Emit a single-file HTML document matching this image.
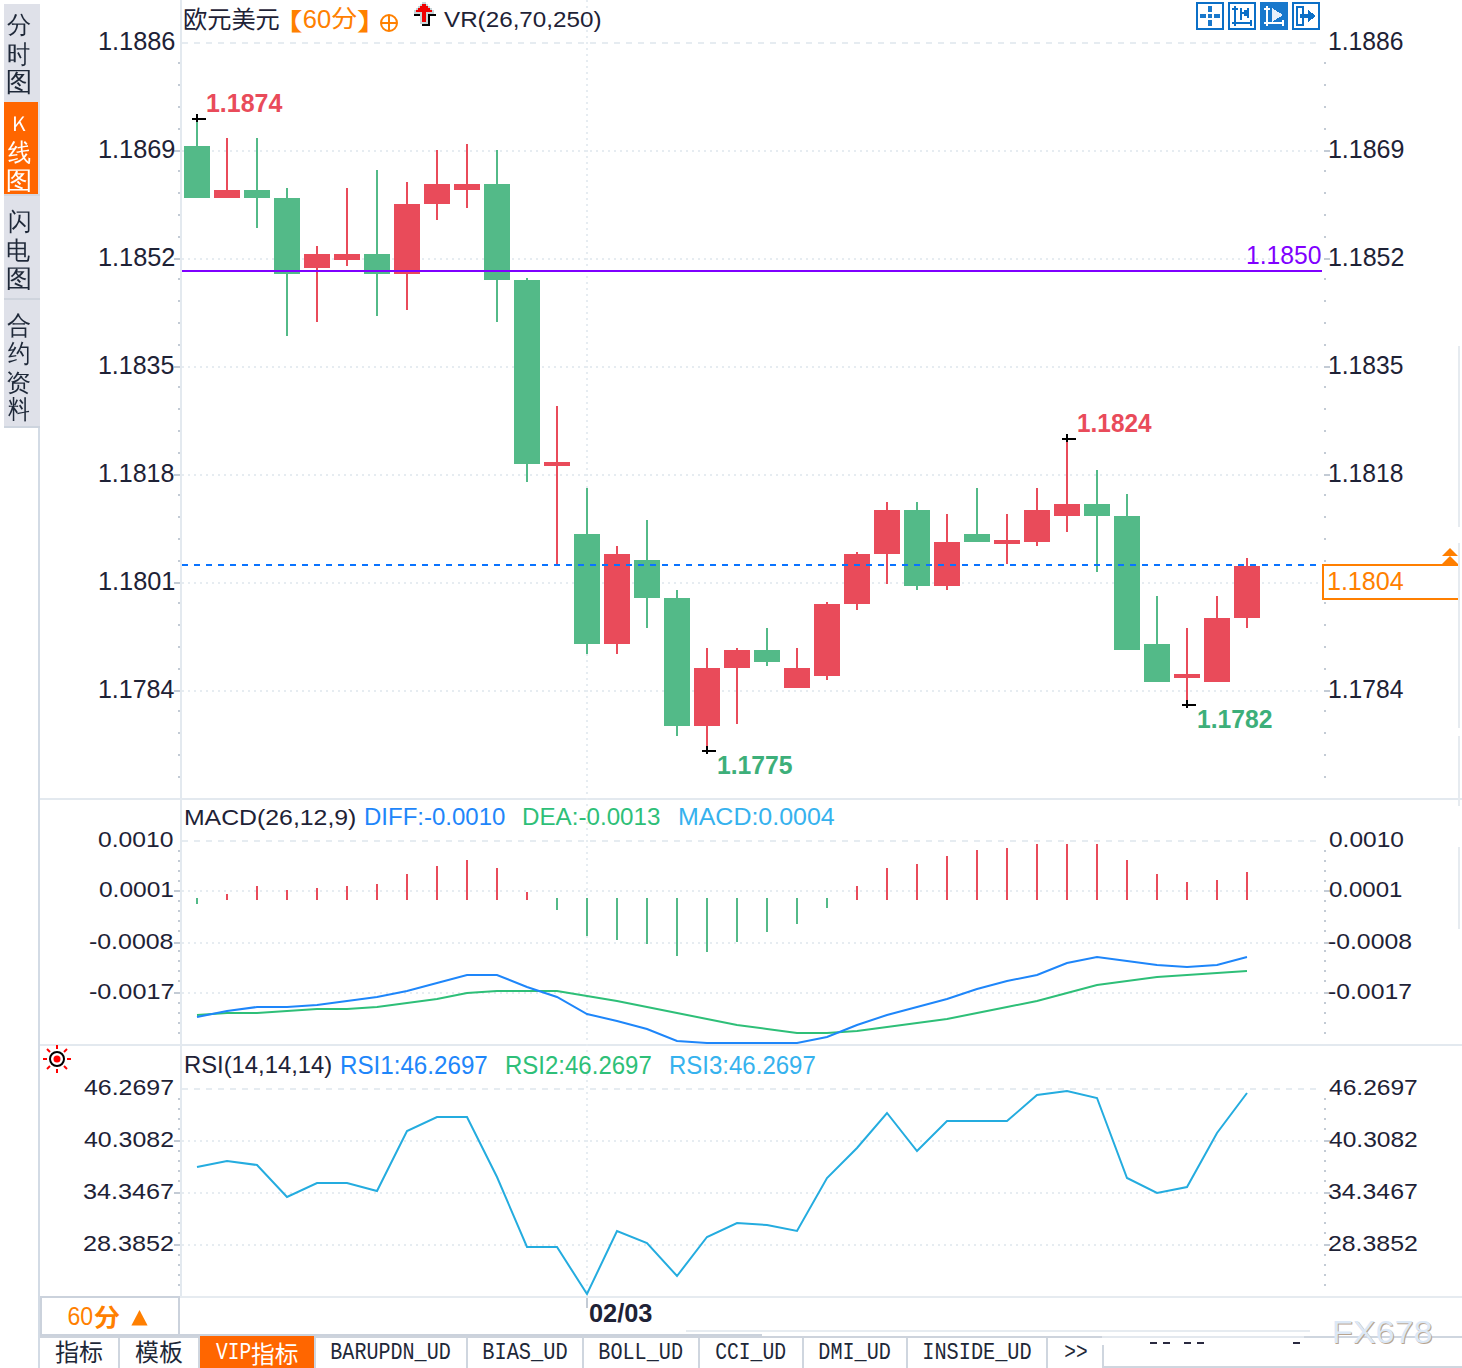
<!DOCTYPE html>
<html><head><meta charset="utf-8"><title>EURUSD 60</title>
<style>
html,body{margin:0;padding:0;background:#fff;}
body{width:1462px;height:1368px;overflow:hidden;}
svg{display:block;}
</style></head><body>
<svg width="1462" height="1368" viewBox="0 0 1462 1368">
<g shape-rendering="crispEdges">
<rect x="4" y="4" width="36" height="422" fill="#dfe1e9"/>
<rect x="4" y="426" width="36" height="2" fill="#cdd4de"/>
<rect x="4" y="102" width="34" height="92" fill="#FF6600"/>
<rect x="4" y="194" width="36" height="2" fill="#d3d7e0"/>
<rect x="4" y="298" width="36" height="2" fill="#cfd4dd"/>
<line x1="181.0" y1="0" x2="181.0" y2="1296" stroke="#e3e9ef" stroke-width="2"/>
<line x1="39.0" y1="428" x2="39.0" y2="1368" stroke="#d3dbe5" stroke-width="2"/>
<line x1="40" y1="799.0" x2="1462" y2="799.0" stroke="#e3e9ef" stroke-width="2"/>
<line x1="40" y1="1045.0" x2="1462" y2="1045.0" stroke="#e3e9ef" stroke-width="2"/>
<line x1="180" y1="1297.0" x2="1462" y2="1297.0" stroke="#e6ebf0" stroke-width="2"/>
<line x1="182" y1="43.0" x2="1322" y2="43.0" stroke="#e6ecf1" stroke-width="2" stroke-dasharray="6 6"/>
<line x1="182" y1="151.0" x2="1322" y2="151.0" stroke="#e6ecf1" stroke-width="2" stroke-dasharray="2 4"/>
<line x1="182" y1="259.0" x2="1322" y2="259.0" stroke="#e6ecf1" stroke-width="2" stroke-dasharray="2 4"/>
<line x1="182" y1="367.0" x2="1322" y2="367.0" stroke="#e6ecf1" stroke-width="2" stroke-dasharray="2 4"/>
<line x1="182" y1="475.0" x2="1322" y2="475.0" stroke="#e6ecf1" stroke-width="2" stroke-dasharray="2 4"/>
<line x1="182" y1="583.0" x2="1322" y2="583.0" stroke="#e6ecf1" stroke-width="2" stroke-dasharray="2 4"/>
<line x1="182" y1="691.0" x2="1322" y2="691.0" stroke="#e6ecf1" stroke-width="2" stroke-dasharray="2 4"/>
<line x1="587.0" y1="0" x2="587.0" y2="1296" stroke="#e6ecf1" stroke-width="2" stroke-dasharray="2 4"/>
<line x1="182" y1="841.0" x2="1322" y2="841.0" stroke="#e6ecf1" stroke-width="2" stroke-dasharray="6 6"/>
<line x1="182" y1="891.0" x2="1322" y2="891.0" stroke="#e6ecf1" stroke-width="2" stroke-dasharray="2 4"/>
<line x1="182" y1="943.0" x2="1322" y2="943.0" stroke="#e6ecf1" stroke-width="2" stroke-dasharray="2 4"/>
<line x1="182" y1="993.0" x2="1322" y2="993.0" stroke="#e6ecf1" stroke-width="2" stroke-dasharray="2 4"/>
<line x1="182" y1="1089.0" x2="1322" y2="1089.0" stroke="#e6ecf1" stroke-width="2" stroke-dasharray="6 6"/>
<line x1="182" y1="1141.0" x2="1322" y2="1141.0" stroke="#e6ecf1" stroke-width="2" stroke-dasharray="2 4"/>
<line x1="182" y1="1193.0" x2="1322" y2="1193.0" stroke="#e6ecf1" stroke-width="2" stroke-dasharray="2 4"/>
<line x1="182" y1="1245.0" x2="1322" y2="1245.0" stroke="#e6ecf1" stroke-width="2" stroke-dasharray="2 4"/>
<rect x="178" y="62" width="2" height="2" fill="#c3cbd5"/>
<rect x="1324" y="62" width="2" height="2" fill="#c3cbd5"/>
<rect x="178" y="84" width="2" height="2" fill="#c3cbd5"/>
<rect x="1324" y="84" width="2" height="2" fill="#c3cbd5"/>
<rect x="178" y="106" width="2" height="2" fill="#c3cbd5"/>
<rect x="1324" y="106" width="2" height="2" fill="#c3cbd5"/>
<rect x="178" y="128" width="2" height="2" fill="#c3cbd5"/>
<rect x="1324" y="128" width="2" height="2" fill="#c3cbd5"/>
<rect x="174" y="150" width="6" height="2" fill="#c3cbd5"/>
<rect x="1324" y="150" width="6" height="2" fill="#c3cbd5"/>
<rect x="178" y="170" width="2" height="2" fill="#c3cbd5"/>
<rect x="1324" y="170" width="2" height="2" fill="#c3cbd5"/>
<rect x="178" y="192" width="2" height="2" fill="#c3cbd5"/>
<rect x="1324" y="192" width="2" height="2" fill="#c3cbd5"/>
<rect x="178" y="214" width="2" height="2" fill="#c3cbd5"/>
<rect x="1324" y="214" width="2" height="2" fill="#c3cbd5"/>
<rect x="178" y="236" width="2" height="2" fill="#c3cbd5"/>
<rect x="1324" y="236" width="2" height="2" fill="#c3cbd5"/>
<rect x="174" y="258" width="6" height="2" fill="#c3cbd5"/>
<rect x="1324" y="258" width="6" height="2" fill="#c3cbd5"/>
<rect x="178" y="278" width="2" height="2" fill="#c3cbd5"/>
<rect x="1324" y="278" width="2" height="2" fill="#c3cbd5"/>
<rect x="178" y="300" width="2" height="2" fill="#c3cbd5"/>
<rect x="1324" y="300" width="2" height="2" fill="#c3cbd5"/>
<rect x="178" y="322" width="2" height="2" fill="#c3cbd5"/>
<rect x="1324" y="322" width="2" height="2" fill="#c3cbd5"/>
<rect x="178" y="344" width="2" height="2" fill="#c3cbd5"/>
<rect x="1324" y="344" width="2" height="2" fill="#c3cbd5"/>
<rect x="174" y="366" width="6" height="2" fill="#c3cbd5"/>
<rect x="1324" y="366" width="6" height="2" fill="#c3cbd5"/>
<rect x="178" y="386" width="2" height="2" fill="#c3cbd5"/>
<rect x="1324" y="386" width="2" height="2" fill="#c3cbd5"/>
<rect x="178" y="408" width="2" height="2" fill="#c3cbd5"/>
<rect x="1324" y="408" width="2" height="2" fill="#c3cbd5"/>
<rect x="178" y="430" width="2" height="2" fill="#c3cbd5"/>
<rect x="1324" y="430" width="2" height="2" fill="#c3cbd5"/>
<rect x="178" y="452" width="2" height="2" fill="#c3cbd5"/>
<rect x="1324" y="452" width="2" height="2" fill="#c3cbd5"/>
<rect x="174" y="474" width="6" height="2" fill="#c3cbd5"/>
<rect x="1324" y="474" width="6" height="2" fill="#c3cbd5"/>
<rect x="178" y="494" width="2" height="2" fill="#c3cbd5"/>
<rect x="1324" y="494" width="2" height="2" fill="#c3cbd5"/>
<rect x="178" y="516" width="2" height="2" fill="#c3cbd5"/>
<rect x="1324" y="516" width="2" height="2" fill="#c3cbd5"/>
<rect x="178" y="538" width="2" height="2" fill="#c3cbd5"/>
<rect x="1324" y="538" width="2" height="2" fill="#c3cbd5"/>
<rect x="178" y="560" width="2" height="2" fill="#c3cbd5"/>
<rect x="1324" y="560" width="2" height="2" fill="#c3cbd5"/>
<rect x="174" y="582" width="6" height="2" fill="#c3cbd5"/>
<rect x="1324" y="582" width="6" height="2" fill="#c3cbd5"/>
<rect x="178" y="602" width="2" height="2" fill="#c3cbd5"/>
<rect x="1324" y="602" width="2" height="2" fill="#c3cbd5"/>
<rect x="178" y="624" width="2" height="2" fill="#c3cbd5"/>
<rect x="1324" y="624" width="2" height="2" fill="#c3cbd5"/>
<rect x="178" y="646" width="2" height="2" fill="#c3cbd5"/>
<rect x="1324" y="646" width="2" height="2" fill="#c3cbd5"/>
<rect x="178" y="668" width="2" height="2" fill="#c3cbd5"/>
<rect x="1324" y="668" width="2" height="2" fill="#c3cbd5"/>
<rect x="174" y="690" width="6" height="2" fill="#c3cbd5"/>
<rect x="1324" y="690" width="6" height="2" fill="#c3cbd5"/>
<rect x="178" y="710" width="2" height="2" fill="#c3cbd5"/>
<rect x="1324" y="710" width="2" height="2" fill="#c3cbd5"/>
<rect x="178" y="732" width="2" height="2" fill="#c3cbd5"/>
<rect x="1324" y="732" width="2" height="2" fill="#c3cbd5"/>
<rect x="178" y="754" width="2" height="2" fill="#c3cbd5"/>
<rect x="1324" y="754" width="2" height="2" fill="#c3cbd5"/>
<rect x="178" y="776" width="2" height="2" fill="#c3cbd5"/>
<rect x="1324" y="776" width="2" height="2" fill="#c3cbd5"/>
<rect x="178" y="850" width="2" height="2" fill="#c3cbd5"/>
<rect x="1324" y="850" width="2" height="2" fill="#c3cbd5"/>
<rect x="178" y="860" width="2" height="2" fill="#c3cbd5"/>
<rect x="1324" y="860" width="2" height="2" fill="#c3cbd5"/>
<rect x="178" y="870" width="2" height="2" fill="#c3cbd5"/>
<rect x="1324" y="870" width="2" height="2" fill="#c3cbd5"/>
<rect x="178" y="880" width="2" height="2" fill="#c3cbd5"/>
<rect x="1324" y="880" width="2" height="2" fill="#c3cbd5"/>
<rect x="174" y="890" width="6" height="2" fill="#c3cbd5"/>
<rect x="1324" y="890" width="6" height="2" fill="#c3cbd5"/>
<rect x="178" y="900" width="2" height="2" fill="#c3cbd5"/>
<rect x="1324" y="900" width="2" height="2" fill="#c3cbd5"/>
<rect x="178" y="910" width="2" height="2" fill="#c3cbd5"/>
<rect x="1324" y="910" width="2" height="2" fill="#c3cbd5"/>
<rect x="178" y="920" width="2" height="2" fill="#c3cbd5"/>
<rect x="1324" y="920" width="2" height="2" fill="#c3cbd5"/>
<rect x="178" y="930" width="2" height="2" fill="#c3cbd5"/>
<rect x="1324" y="930" width="2" height="2" fill="#c3cbd5"/>
<rect x="174" y="942" width="6" height="2" fill="#c3cbd5"/>
<rect x="1324" y="942" width="6" height="2" fill="#c3cbd5"/>
<rect x="178" y="950" width="2" height="2" fill="#c3cbd5"/>
<rect x="1324" y="950" width="2" height="2" fill="#c3cbd5"/>
<rect x="178" y="960" width="2" height="2" fill="#c3cbd5"/>
<rect x="1324" y="960" width="2" height="2" fill="#c3cbd5"/>
<rect x="178" y="970" width="2" height="2" fill="#c3cbd5"/>
<rect x="1324" y="970" width="2" height="2" fill="#c3cbd5"/>
<rect x="178" y="980" width="2" height="2" fill="#c3cbd5"/>
<rect x="1324" y="980" width="2" height="2" fill="#c3cbd5"/>
<rect x="174" y="992" width="6" height="2" fill="#c3cbd5"/>
<rect x="1324" y="992" width="6" height="2" fill="#c3cbd5"/>
<rect x="178" y="1002" width="2" height="2" fill="#c3cbd5"/>
<rect x="1324" y="1002" width="2" height="2" fill="#c3cbd5"/>
<rect x="178" y="1012" width="2" height="2" fill="#c3cbd5"/>
<rect x="1324" y="1012" width="2" height="2" fill="#c3cbd5"/>
<rect x="178" y="1022" width="2" height="2" fill="#c3cbd5"/>
<rect x="1324" y="1022" width="2" height="2" fill="#c3cbd5"/>
<rect x="178" y="1032" width="2" height="2" fill="#c3cbd5"/>
<rect x="1324" y="1032" width="2" height="2" fill="#c3cbd5"/>
<rect x="178" y="1098" width="2" height="2" fill="#c3cbd5"/>
<rect x="1324" y="1098" width="2" height="2" fill="#c3cbd5"/>
<rect x="178" y="1108" width="2" height="2" fill="#c3cbd5"/>
<rect x="1324" y="1108" width="2" height="2" fill="#c3cbd5"/>
<rect x="178" y="1118" width="2" height="2" fill="#c3cbd5"/>
<rect x="1324" y="1118" width="2" height="2" fill="#c3cbd5"/>
<rect x="178" y="1128" width="2" height="2" fill="#c3cbd5"/>
<rect x="1324" y="1128" width="2" height="2" fill="#c3cbd5"/>
<rect x="174" y="1140" width="6" height="2" fill="#c3cbd5"/>
<rect x="1324" y="1140" width="6" height="2" fill="#c3cbd5"/>
<rect x="178" y="1150" width="2" height="2" fill="#c3cbd5"/>
<rect x="1324" y="1150" width="2" height="2" fill="#c3cbd5"/>
<rect x="178" y="1160" width="2" height="2" fill="#c3cbd5"/>
<rect x="1324" y="1160" width="2" height="2" fill="#c3cbd5"/>
<rect x="178" y="1170" width="2" height="2" fill="#c3cbd5"/>
<rect x="1324" y="1170" width="2" height="2" fill="#c3cbd5"/>
<rect x="178" y="1180" width="2" height="2" fill="#c3cbd5"/>
<rect x="1324" y="1180" width="2" height="2" fill="#c3cbd5"/>
<rect x="174" y="1192" width="6" height="2" fill="#c3cbd5"/>
<rect x="1324" y="1192" width="6" height="2" fill="#c3cbd5"/>
<rect x="178" y="1202" width="2" height="2" fill="#c3cbd5"/>
<rect x="1324" y="1202" width="2" height="2" fill="#c3cbd5"/>
<rect x="178" y="1212" width="2" height="2" fill="#c3cbd5"/>
<rect x="1324" y="1212" width="2" height="2" fill="#c3cbd5"/>
<rect x="178" y="1222" width="2" height="2" fill="#c3cbd5"/>
<rect x="1324" y="1222" width="2" height="2" fill="#c3cbd5"/>
<rect x="178" y="1232" width="2" height="2" fill="#c3cbd5"/>
<rect x="1324" y="1232" width="2" height="2" fill="#c3cbd5"/>
<rect x="174" y="1244" width="6" height="2" fill="#c3cbd5"/>
<rect x="1324" y="1244" width="6" height="2" fill="#c3cbd5"/>
<rect x="178" y="1254" width="2" height="2" fill="#c3cbd5"/>
<rect x="1324" y="1254" width="2" height="2" fill="#c3cbd5"/>
<rect x="178" y="1264" width="2" height="2" fill="#c3cbd5"/>
<rect x="1324" y="1264" width="2" height="2" fill="#c3cbd5"/>
<rect x="178" y="1274" width="2" height="2" fill="#c3cbd5"/>
<rect x="1324" y="1274" width="2" height="2" fill="#c3cbd5"/>
<rect x="178" y="1284" width="2" height="2" fill="#c3cbd5"/>
<rect x="1324" y="1284" width="2" height="2" fill="#c3cbd5"/>
<rect x="196" y="118" width="2" height="80" fill="#53BA88"/>
<rect x="184" y="146" width="26" height="52" fill="#53BA88"/>
<rect x="226" y="138" width="2" height="60" fill="#E94B5A"/>
<rect x="214" y="190" width="26" height="8" fill="#E94B5A"/>
<rect x="256" y="138" width="2" height="90" fill="#53BA88"/>
<rect x="244" y="190" width="26" height="8" fill="#53BA88"/>
<rect x="286" y="188" width="2" height="148" fill="#53BA88"/>
<rect x="274" y="198" width="26" height="76" fill="#53BA88"/>
<rect x="316" y="246" width="2" height="76" fill="#E94B5A"/>
<rect x="304" y="254" width="26" height="14" fill="#E94B5A"/>
<rect x="346" y="188" width="2" height="78" fill="#E94B5A"/>
<rect x="334" y="254" width="26" height="6" fill="#E94B5A"/>
<rect x="376" y="170" width="2" height="146" fill="#53BA88"/>
<rect x="364" y="254" width="26" height="20" fill="#53BA88"/>
<rect x="406" y="182" width="2" height="128" fill="#E94B5A"/>
<rect x="394" y="204" width="26" height="70" fill="#E94B5A"/>
<rect x="436" y="150" width="2" height="70" fill="#E94B5A"/>
<rect x="424" y="184" width="26" height="20" fill="#E94B5A"/>
<rect x="466" y="144" width="2" height="64" fill="#E94B5A"/>
<rect x="454" y="184" width="26" height="6" fill="#E94B5A"/>
<rect x="496" y="150" width="2" height="172" fill="#53BA88"/>
<rect x="484" y="184" width="26" height="96" fill="#53BA88"/>
<rect x="526" y="278" width="2" height="204" fill="#53BA88"/>
<rect x="514" y="280" width="26" height="184" fill="#53BA88"/>
<rect x="556" y="406" width="2" height="158" fill="#E94B5A"/>
<rect x="544" y="462" width="26" height="4" fill="#E94B5A"/>
<rect x="586" y="488" width="2" height="166" fill="#53BA88"/>
<rect x="574" y="534" width="26" height="110" fill="#53BA88"/>
<rect x="616" y="546" width="2" height="108" fill="#E94B5A"/>
<rect x="604" y="554" width="26" height="90" fill="#E94B5A"/>
<rect x="646" y="520" width="2" height="108" fill="#53BA88"/>
<rect x="634" y="560" width="26" height="38" fill="#53BA88"/>
<rect x="676" y="590" width="2" height="146" fill="#53BA88"/>
<rect x="664" y="598" width="26" height="128" fill="#53BA88"/>
<rect x="706" y="648" width="2" height="102" fill="#E94B5A"/>
<rect x="694" y="668" width="26" height="58" fill="#E94B5A"/>
<rect x="736" y="648" width="2" height="76" fill="#E94B5A"/>
<rect x="724" y="650" width="26" height="18" fill="#E94B5A"/>
<rect x="766" y="628" width="2" height="38" fill="#53BA88"/>
<rect x="754" y="650" width="26" height="12" fill="#53BA88"/>
<rect x="796" y="648" width="2" height="40" fill="#E94B5A"/>
<rect x="784" y="668" width="26" height="20" fill="#E94B5A"/>
<rect x="826" y="602" width="2" height="78" fill="#E94B5A"/>
<rect x="814" y="604" width="26" height="72" fill="#E94B5A"/>
<rect x="856" y="552" width="2" height="58" fill="#E94B5A"/>
<rect x="844" y="554" width="26" height="50" fill="#E94B5A"/>
<rect x="886" y="502" width="2" height="82" fill="#E94B5A"/>
<rect x="874" y="510" width="26" height="44" fill="#E94B5A"/>
<rect x="916" y="502" width="2" height="88" fill="#53BA88"/>
<rect x="904" y="510" width="26" height="76" fill="#53BA88"/>
<rect x="946" y="514" width="2" height="76" fill="#E94B5A"/>
<rect x="934" y="542" width="26" height="44" fill="#E94B5A"/>
<rect x="976" y="488" width="2" height="54" fill="#53BA88"/>
<rect x="964" y="534" width="26" height="8" fill="#53BA88"/>
<rect x="1006" y="514" width="2" height="50" fill="#E94B5A"/>
<rect x="994" y="540" width="26" height="4" fill="#E94B5A"/>
<rect x="1036" y="488" width="2" height="58" fill="#E94B5A"/>
<rect x="1024" y="510" width="26" height="32" fill="#E94B5A"/>
<rect x="1066" y="438" width="2" height="94" fill="#E94B5A"/>
<rect x="1054" y="504" width="26" height="12" fill="#E94B5A"/>
<rect x="1096" y="470" width="2" height="102" fill="#53BA88"/>
<rect x="1084" y="504" width="26" height="12" fill="#53BA88"/>
<rect x="1126" y="494" width="2" height="156" fill="#53BA88"/>
<rect x="1114" y="516" width="26" height="134" fill="#53BA88"/>
<rect x="1156" y="596" width="2" height="86" fill="#53BA88"/>
<rect x="1144" y="644" width="26" height="38" fill="#53BA88"/>
<rect x="1186" y="628" width="2" height="76" fill="#E94B5A"/>
<rect x="1174" y="674" width="26" height="4" fill="#E94B5A"/>
<rect x="1216" y="596" width="2" height="86" fill="#E94B5A"/>
<rect x="1204" y="618" width="26" height="64" fill="#E94B5A"/>
<rect x="1246" y="558" width="2" height="70" fill="#E94B5A"/>
<rect x="1234" y="566" width="26" height="52" fill="#E94B5A"/>
<rect x="182" y="270" width="1140" height="2" fill="#7F00FF"/>
<line x1="182" y1="565.0" x2="1322" y2="565.0" stroke="#0A74FF" stroke-width="2" stroke-dasharray="6 6"/>
<rect x="192" y="118" width="14" height="2" fill="#000"/>
<rect x="196" y="114" width="2" height="8" fill="#000"/>
<rect x="1062" y="438" width="14" height="2" fill="#000"/>
<rect x="1066" y="434" width="2" height="8" fill="#000"/>
<rect x="702" y="750" width="14" height="2" fill="#000"/>
<rect x="706" y="746" width="2" height="8" fill="#000"/>
<rect x="1182" y="704" width="14" height="2" fill="#000"/>
<rect x="1186" y="700" width="2" height="8" fill="#000"/>
<rect x="196" y="898" width="2" height="6" fill="#53BA88"/>
<rect x="226" y="894" width="2" height="6" fill="#E94B5A"/>
<rect x="256" y="886" width="2" height="14" fill="#E94B5A"/>
<rect x="286" y="890" width="2" height="10" fill="#E94B5A"/>
<rect x="316" y="888" width="2" height="12" fill="#E94B5A"/>
<rect x="346" y="886" width="2" height="14" fill="#E94B5A"/>
<rect x="376" y="884" width="2" height="16" fill="#E94B5A"/>
<rect x="406" y="874" width="2" height="26" fill="#E94B5A"/>
<rect x="436" y="866" width="2" height="34" fill="#E94B5A"/>
<rect x="466" y="860" width="2" height="40" fill="#E94B5A"/>
<rect x="496" y="868" width="2" height="32" fill="#E94B5A"/>
<rect x="526" y="892" width="2" height="8" fill="#E94B5A"/>
<rect x="556" y="898" width="2" height="12" fill="#53BA88"/>
<rect x="586" y="898" width="2" height="38" fill="#53BA88"/>
<rect x="616" y="898" width="2" height="42" fill="#53BA88"/>
<rect x="646" y="898" width="2" height="46" fill="#53BA88"/>
<rect x="676" y="898" width="2" height="58" fill="#53BA88"/>
<rect x="706" y="898" width="2" height="54" fill="#53BA88"/>
<rect x="736" y="898" width="2" height="44" fill="#53BA88"/>
<rect x="766" y="898" width="2" height="34" fill="#53BA88"/>
<rect x="796" y="898" width="2" height="26" fill="#53BA88"/>
<rect x="826" y="898" width="2" height="10" fill="#53BA88"/>
<rect x="856" y="886" width="2" height="14" fill="#E94B5A"/>
<rect x="886" y="868" width="2" height="32" fill="#E94B5A"/>
<rect x="916" y="864" width="2" height="36" fill="#E94B5A"/>
<rect x="946" y="856" width="2" height="44" fill="#E94B5A"/>
<rect x="976" y="850" width="2" height="50" fill="#E94B5A"/>
<rect x="1006" y="848" width="2" height="52" fill="#E94B5A"/>
<rect x="1036" y="844" width="2" height="56" fill="#E94B5A"/>
<rect x="1066" y="844" width="2" height="56" fill="#E94B5A"/>
<rect x="1096" y="844" width="2" height="56" fill="#E94B5A"/>
<rect x="1126" y="860" width="2" height="40" fill="#E94B5A"/>
<rect x="1156" y="874" width="2" height="26" fill="#E94B5A"/>
<rect x="1186" y="882" width="2" height="18" fill="#E94B5A"/>
<rect x="1216" y="880" width="2" height="20" fill="#E94B5A"/>
<rect x="1246" y="872" width="2" height="28" fill="#E94B5A"/>
<rect x="1324" y="566" width="134" height="32" fill="#ffffff"/>
<rect x="1322" y="564" width="136" height="2" fill="#FF7F00"/>
<rect x="1322" y="598" width="136" height="2" fill="#FF7F00"/>
<rect x="1322" y="564" width="2" height="36" fill="#FF7F00"/>
<rect x="1458" y="346" width="2" height="181" fill="#e6ebf0"/>
<rect x="1458" y="543" width="2" height="185" fill="#e6ebf0"/>
<rect x="1458" y="736" width="2" height="70" fill="#e6ebf0"/>
<rect x="1458" y="847" width="2" height="82" fill="#e6ebf0"/>
<rect x="586" y="1298" width="2" height="10" fill="#c3cbd5"/>
<rect x="40" y="1296" width="140" height="2" fill="#cbd2dc"/>
<rect x="40" y="1296" width="2" height="40" fill="#cbd2dc"/>
<rect x="178" y="1296" width="2" height="40" fill="#cbd2dc"/>
<rect x="686" y="1330" width="624" height="2" fill="#e6ebf0"/>
<rect x="40" y="1334" width="722" height="2" fill="#cbd2dc"/>
<rect x="762" y="1336" width="542" height="2" fill="#e3e8ee"/>
<rect x="1304" y="1336" width="158" height="2" fill="#cfd6df"/>
<rect x="40" y="1336" width="1062" height="2" fill="#cdd3dc"/>
<rect x="200" y="1336" width="114" height="32" fill="#FF6600"/>
<rect x="118" y="1338" width="2" height="30" fill="#cfd6df"/>
<rect x="198" y="1338" width="2" height="30" fill="#cfd6df"/>
<rect x="314" y="1338" width="2" height="30" fill="#cfd6df"/>
<rect x="466" y="1338" width="2" height="30" fill="#cfd6df"/>
<rect x="582" y="1338" width="2" height="30" fill="#cfd6df"/>
<rect x="698" y="1338" width="2" height="30" fill="#cfd6df"/>
<rect x="802" y="1338" width="2" height="30" fill="#cfd6df"/>
<rect x="906" y="1338" width="2" height="30" fill="#cfd6df"/>
<rect x="1046" y="1338" width="2" height="30" fill="#cfd6df"/>
<rect x="1102" y="1345" width="2" height="23" fill="#cfd6df"/>
<rect x="1102" y="1366" width="360" height="2" fill="#cfd6df"/>
<rect x="1150" y="1342" width="7" height="2" fill="#2a2a40"/>
<rect x="1163" y="1342" width="7" height="2" fill="#2a2a40"/>
<rect x="1184" y="1342" width="7" height="2" fill="#2a2a40"/>
<rect x="1197" y="1342" width="7" height="2" fill="#2a2a40"/>
<rect x="1293" y="1342" width="7" height="2" fill="#2a2a40"/>
</g>
<polyline points="197,1015 227,1013 257,1013 287,1011 317,1009 347,1009 377,1007 407,1003 437,999 467,993 497,991 527,991 557,991 587,996 617,1001 647,1007 677,1013 707,1019 737,1025 767,1029 797,1033 827,1033 857,1031 887,1027 917,1023 947,1019 977,1013 1007,1007 1037,1001 1067,993 1097,985 1127,981 1157,977 1187,975 1217,973 1247,971" fill="none" stroke="#2EBF78" stroke-width="2" stroke-linejoin="miter"/>
<polyline points="197,1017 227,1011 257,1007 287,1007 317,1005 347,1001 377,997 407,991 437,983 467,975 497,975 527,987 557,997 587,1014 617,1021 647,1029 677,1041 707,1043 737,1043 767,1043 797,1043 827,1037 857,1025 887,1015 917,1007 947,999 977,989 1007,981 1037,975 1067,963 1097,957 1127,961 1157,965 1187,967 1217,965 1247,957" fill="none" stroke="#1E86FA" stroke-width="2" stroke-linejoin="miter"/>
<polyline points="197,1167 227,1161 257,1165 287,1197 317,1183 347,1183 377,1191 407,1131 437,1117 467,1117 497,1177 527,1247 557,1247 587,1294 617,1231 647,1243 677,1276 707,1237 737,1223 767,1225 797,1231 827,1178 857,1148 887,1113 917,1151 947,1121 977,1121 1007,1121 1037,1095 1067,1091 1097,1098 1127,1178 1157,1193 1187,1187 1217,1133 1247,1093" fill="none" stroke="#24ACDF" stroke-width="2" stroke-linejoin="miter"/>
<path d="M139.5 1310 L147.6 1325.5 L131.4 1325.5 Z" fill="#FF7F00"/>
<path d="M1450 548 L1458 556 L1442 556 Z M1450 556 L1458 564 L1442 564 Z" fill="#FF7F00"/>
<circle cx="389" cy="23" r="8" fill="none" stroke="#FF8000" stroke-width="2"/><line x1="381" y1="23" x2="397" y2="23" stroke="#FF8000" stroke-width="2"/><line x1="389" y1="15" x2="389" y2="31" stroke="#FF8000" stroke-width="2"/>
<g shape-rendering="crispEdges"><g fill="#c8d5d8"><rect x="422" y="2" width="4" height="2"/><rect x="420" y="4" width="2" height="2"/><rect x="426" y="4" width="2" height="2"/><rect x="418" y="6" width="2" height="2"/><rect x="428" y="6" width="2" height="2"/><rect x="416" y="8" width="2" height="2"/><rect x="430" y="8" width="2" height="2"/><rect x="414" y="10" width="2" height="2"/><rect x="432" y="10" width="2" height="2"/><rect x="414" y="12" width="20" height="2"/><rect x="420" y="14" width="2" height="10"/><rect x="426" y="14" width="2" height="8"/><rect x="420" y="22" width="8" height="2"/></g><g fill="#F00000"><rect x="422" y="4" width="4" height="2"/><rect x="420" y="6" width="8" height="2"/><rect x="418" y="8" width="12" height="2"/><rect x="416" y="10" width="16" height="2"/><rect x="422" y="12" width="4" height="10"/></g><g fill="#000"><rect x="414" y="14" width="6" height="2"/><rect x="428" y="14" width="8" height="2"/><rect x="428" y="14" width="2" height="12"/><rect x="422" y="24" width="8" height="2"/></g></g>
<g transform="translate(42,1044)">
<circle cx="15" cy="15" r="7" fill="none" stroke="#000" stroke-width="2"/>
<circle cx="15" cy="15" r="3.5" fill="#f00"/>
<g stroke="#f00" stroke-width="2">
<line x1="15" y1="1" x2="15" y2="5"/><line x1="15" y1="25" x2="15" y2="29"/>
<line x1="1" y1="15" x2="5" y2="15"/><line x1="25" y1="15" x2="29" y2="15"/>
<line x1="5" y1="5" x2="8" y2="8"/><line x1="22" y1="22" x2="25" y2="25"/>
<line x1="25" y1="5" x2="22" y2="8"/><line x1="5" y1="25" x2="8" y2="22"/>
</g></g>
<g shape-rendering="crispEdges">
<g fill="none" stroke="#0B6FC7" stroke-width="2">
<rect x="1197" y="3" width="26" height="26"/><rect x="1229" y="3" width="26" height="26"/><rect x="1293" y="3" width="26" height="26"/>
</g>
<rect x="1260" y="2" width="28" height="28" fill="#1878CC"/>
<g fill="#1878CC">
<rect x="1208" y="6" width="4" height="6"/><rect x="1208" y="14" width="4" height="4"/><rect x="1208" y="20" width="4" height="6"/>
<rect x="1200" y="14" width="6" height="4"/><rect x="1214" y="14" width="6" height="4"/>
</g>
<g fill="#0B6FC7">
<rect x="1234" y="6" width="2" height="20"/><rect x="1232" y="8" width="6" height="2"/><rect x="1232" y="22" width="20" height="2"/><rect x="1250" y="20" width="2" height="6"/>
<rect x="1240" y="8" width="2" height="12"/><rect x="1242" y="12" width="2" height="2"/><rect x="1244" y="10" width="4" height="6"/><rect x="1247" y="8" width="1.5" height="10"/>
<rect x="1296" y="6" width="8" height="2"/><rect x="1296" y="24" width="8" height="2"/><rect x="1296" y="6" width="2" height="20"/><rect x="1302" y="6" width="2" height="20"/>
<rect x="1300" y="14" width="14" height="4"/><path d="M1308 10 L1316 16 L1308 22 Z"/>
</g>
<g fill="#fff">
<rect x="1266" y="6" width="2" height="20"/><rect x="1264" y="8" width="6" height="2"/><rect x="1264" y="22" width="20" height="2"/><rect x="1282" y="20" width="2" height="6"/>
</g>
<path d="M1272 8 L1283 15 L1272 22 Z" fill="#e8f0fa"/>
</g>
<text x="97.89" y="50.00" font-size="25.41" fill="#1e2236" font-weight="normal" font-family='"Liberation Sans", "Noto Sans CJK SC", sans-serif' textLength="77.60" lengthAdjust="spacingAndGlyphs">1.1886</text>
<text x="1327.94" y="50.00" font-size="25.41" fill="#1e2236" font-weight="normal" font-family='"Liberation Sans", "Noto Sans CJK SC", sans-serif' textLength="75.52" lengthAdjust="spacingAndGlyphs">1.1886</text>
<text x="97.89" y="158.00" font-size="25.41" fill="#1e2236" font-weight="normal" font-family='"Liberation Sans", "Noto Sans CJK SC", sans-serif' textLength="77.60" lengthAdjust="spacingAndGlyphs">1.1869</text>
<text x="1327.91" y="158.00" font-size="25.41" fill="#1e2236" font-weight="normal" font-family='"Liberation Sans", "Noto Sans CJK SC", sans-serif' textLength="76.55" lengthAdjust="spacingAndGlyphs">1.1869</text>
<text x="97.89" y="266.00" font-size="25.41" fill="#1e2236" font-weight="normal" font-family='"Liberation Sans", "Noto Sans CJK SC", sans-serif' textLength="77.60" lengthAdjust="spacingAndGlyphs">1.1852</text>
<text x="1327.91" y="266.00" font-size="25.41" fill="#1e2236" font-weight="normal" font-family='"Liberation Sans", "Noto Sans CJK SC", sans-serif' textLength="76.55" lengthAdjust="spacingAndGlyphs">1.1852</text>
<text x="97.92" y="374.00" font-size="25.41" fill="#1e2236" font-weight="normal" font-family='"Liberation Sans", "Noto Sans CJK SC", sans-serif' textLength="76.51" lengthAdjust="spacingAndGlyphs">1.1835</text>
<text x="1327.94" y="374.00" font-size="25.41" fill="#1e2236" font-weight="normal" font-family='"Liberation Sans", "Noto Sans CJK SC", sans-serif' textLength="75.47" lengthAdjust="spacingAndGlyphs">1.1835</text>
<text x="97.92" y="482.00" font-size="25.41" fill="#1e2236" font-weight="normal" font-family='"Liberation Sans", "Noto Sans CJK SC", sans-serif' textLength="76.51" lengthAdjust="spacingAndGlyphs">1.1818</text>
<text x="1327.94" y="482.00" font-size="25.41" fill="#1e2236" font-weight="normal" font-family='"Liberation Sans", "Noto Sans CJK SC", sans-serif' textLength="75.47" lengthAdjust="spacingAndGlyphs">1.1818</text>
<text x="97.89" y="590.00" font-size="25.41" fill="#1e2236" font-weight="normal" font-family='"Liberation Sans", "Noto Sans CJK SC", sans-serif' textLength="77.60" lengthAdjust="spacingAndGlyphs">1.1801</text>
<text x="97.92" y="698.00" font-size="25.41" fill="#1e2236" font-weight="normal" font-family='"Liberation Sans", "Noto Sans CJK SC", sans-serif' textLength="76.51" lengthAdjust="spacingAndGlyphs">1.1784</text>
<text x="1327.94" y="698.00" font-size="25.41" fill="#1e2236" font-weight="normal" font-family='"Liberation Sans", "Noto Sans CJK SC", sans-serif' textLength="75.47" lengthAdjust="spacingAndGlyphs">1.1784</text>
<text x="97.97" y="847.00" font-size="22.94" fill="#1e2236" font-weight="normal" font-family='"Liberation Sans", "Noto Sans CJK SC", sans-serif' textLength="75.45" lengthAdjust="spacingAndGlyphs">0.0010</text>
<text x="1328.98" y="847.00" font-size="22.94" fill="#1e2236" font-weight="normal" font-family='"Liberation Sans", "Noto Sans CJK SC", sans-serif' textLength="74.95" lengthAdjust="spacingAndGlyphs">0.0010</text>
<text x="98.98" y="897.00" font-size="22.94" fill="#1e2236" font-weight="normal" font-family='"Liberation Sans", "Noto Sans CJK SC", sans-serif' textLength="75.05" lengthAdjust="spacingAndGlyphs">0.0001</text>
<text x="1328.97" y="897.00" font-size="22.94" fill="#1e2236" font-weight="normal" font-family='"Liberation Sans", "Noto Sans CJK SC", sans-serif' textLength="73.46" lengthAdjust="spacingAndGlyphs">0.0001</text>
<text x="88.96" y="949.00" font-size="22.94" fill="#1e2236" font-weight="normal" font-family='"Liberation Sans", "Noto Sans CJK SC", sans-serif' textLength="84.51" lengthAdjust="spacingAndGlyphs">-0.0008</text>
<text x="1327.97" y="949.00" font-size="22.94" fill="#1e2236" font-weight="normal" font-family='"Liberation Sans", "Noto Sans CJK SC", sans-serif' textLength="83.97" lengthAdjust="spacingAndGlyphs">-0.0008</text>
<text x="88.95" y="999.00" font-size="22.94" fill="#1e2236" font-weight="normal" font-family='"Liberation Sans", "Noto Sans CJK SC", sans-serif' textLength="85.53" lengthAdjust="spacingAndGlyphs">-0.0017</text>
<text x="1327.97" y="999.00" font-size="22.94" fill="#1e2236" font-weight="normal" font-family='"Liberation Sans", "Noto Sans CJK SC", sans-serif' textLength="83.97" lengthAdjust="spacingAndGlyphs">-0.0017</text>
<text x="83.97" y="1095.00" font-size="22.94" fill="#1e2236" font-weight="normal" font-family='"Liberation Sans", "Noto Sans CJK SC", sans-serif' textLength="90.05" lengthAdjust="spacingAndGlyphs">46.2697</text>
<text x="1329.00" y="1095.00" font-size="22.94" fill="#1e2236" font-weight="normal" font-family='"Liberation Sans", "Noto Sans CJK SC", sans-serif' textLength="88.78" lengthAdjust="spacingAndGlyphs">46.2697</text>
<text x="83.97" y="1147.00" font-size="22.94" fill="#1e2236" font-weight="normal" font-family='"Liberation Sans", "Noto Sans CJK SC", sans-serif' textLength="90.05" lengthAdjust="spacingAndGlyphs">40.3082</text>
<text x="1329.00" y="1147.00" font-size="22.94" fill="#1e2236" font-weight="normal" font-family='"Liberation Sans", "Noto Sans CJK SC", sans-serif' textLength="88.78" lengthAdjust="spacingAndGlyphs">40.3082</text>
<text x="82.91" y="1199.00" font-size="22.94" fill="#1e2236" font-weight="normal" font-family='"Liberation Sans", "Noto Sans CJK SC", sans-serif' textLength="91.13" lengthAdjust="spacingAndGlyphs">34.3467</text>
<text x="1327.96" y="1199.00" font-size="22.94" fill="#1e2236" font-weight="normal" font-family='"Liberation Sans", "Noto Sans CJK SC", sans-serif' textLength="89.83" lengthAdjust="spacingAndGlyphs">34.3467</text>
<text x="82.91" y="1251.00" font-size="22.94" fill="#1e2236" font-weight="normal" font-family='"Liberation Sans", "Noto Sans CJK SC", sans-serif' textLength="91.13" lengthAdjust="spacingAndGlyphs">28.3852</text>
<text x="1327.96" y="1251.00" font-size="22.94" fill="#1e2236" font-weight="normal" font-family='"Liberation Sans", "Noto Sans CJK SC", sans-serif' textLength="89.83" lengthAdjust="spacingAndGlyphs">28.3852</text>
<text x="205.96" y="112.00" font-size="25.41" fill="#E94B5A" font-weight="bold" font-family='"Liberation Sans", "Noto Sans CJK SC", sans-serif' textLength="76.46" lengthAdjust="spacingAndGlyphs">1.1874</text>
<text x="1076.98" y="432.00" font-size="25.41" fill="#E94B5A" font-weight="bold" font-family='"Liberation Sans", "Noto Sans CJK SC", sans-serif' textLength="74.64" lengthAdjust="spacingAndGlyphs">1.1824</text>
<text x="716.97" y="774.00" font-size="25.41" fill="#3DAF7A" font-weight="bold" font-family='"Liberation Sans", "Noto Sans CJK SC", sans-serif' textLength="75.66" lengthAdjust="spacingAndGlyphs">1.1775</text>
<text x="1196.97" y="728.00" font-size="25.41" fill="#3DAF7A" font-weight="bold" font-family='"Liberation Sans", "Noto Sans CJK SC", sans-serif' textLength="75.45" lengthAdjust="spacingAndGlyphs">1.1782</text>
<text x="1245.94" y="264.00" font-size="25.41" fill="#8000FF" font-weight="normal" font-family='"Liberation Sans", "Noto Sans CJK SC", sans-serif' textLength="75.47" lengthAdjust="spacingAndGlyphs">1.1850</text>
<text x="1326.90" y="590.00" font-size="25.41" fill="#FF8000" font-weight="normal" font-family='"Liberation Sans", "Noto Sans CJK SC", sans-serif' textLength="76.93" lengthAdjust="spacingAndGlyphs">1.1804</text>
<text x="182.98" y="28.20" font-size="24.00" fill="#1e2236" font-weight="normal" font-family='"Noto Sans CJK SC", "Liberation Sans", sans-serif' textLength="96.82" lengthAdjust="spacingAndGlyphs">欧元美元</text>
<text x="270.29" y="30.00" font-size="24.00" fill="#FF8000" font-weight="normal" font-family='"Noto Sans CJK SC", "Liberation Sans", sans-serif' textLength="32.57" lengthAdjust="spacingAndGlyphs">【</text>
<text x="302.86" y="28.00" font-size="25.76" fill="#FF8000" font-weight="normal" font-family='"Liberation Sans", "Noto Sans CJK SC", sans-serif' textLength="28.42" lengthAdjust="spacingAndGlyphs">60</text>
<text x="330.90" y="27.20" font-size="24.00" fill="#FF8000" font-weight="normal" font-family='"Noto Sans CJK SC", "Liberation Sans", sans-serif' textLength="26.44" lengthAdjust="spacingAndGlyphs">分</text>
<text x="356.66" y="30.00" font-size="24.00" fill="#FF8000" font-weight="normal" font-family='"Noto Sans CJK SC", "Liberation Sans", sans-serif' textLength="32.18" lengthAdjust="spacingAndGlyphs">】</text>
<text x="443.99" y="27.00" font-size="22.24" fill="#1e2236" font-weight="normal" font-family='"Liberation Sans", "Noto Sans CJK SC", sans-serif' textLength="157.52" lengthAdjust="spacingAndGlyphs">VR(26,70,250)</text>
<text x="183.94" y="825.00" font-size="22.24" fill="#1e2236" font-weight="normal" font-family='"Liberation Sans", "Noto Sans CJK SC", sans-serif' textLength="172.43" lengthAdjust="spacingAndGlyphs">MACD(26,12,9)</text>
<text x="364.00" y="825.00" font-size="24.79" fill="#1E86FA" font-weight="normal" font-family='"Liberation Sans", "Noto Sans CJK SC", sans-serif' textLength="141.39" lengthAdjust="spacingAndGlyphs">DIFF:-0.0010</text>
<text x="521.98" y="825.00" font-size="24.79" fill="#2EBF78" font-weight="normal" font-family='"Liberation Sans", "Noto Sans CJK SC", sans-serif' textLength="138.48" lengthAdjust="spacingAndGlyphs">DEA:-0.0013</text>
<text x="677.92" y="825.00" font-size="24.79" fill="#36B2EE" font-weight="normal" font-family='"Liberation Sans", "Noto Sans CJK SC", sans-serif' textLength="156.86" lengthAdjust="spacingAndGlyphs">MACD:0.0004</text>
<text x="184.01" y="1073.00" font-size="24.00" fill="#1e2236" font-weight="normal" font-family='"Liberation Sans", "Noto Sans CJK SC", sans-serif' textLength="148.20" lengthAdjust="spacingAndGlyphs">RSI(14,14,14)</text>
<text x="339.99" y="1074.00" font-size="25.41" fill="#1E86FA" font-weight="normal" font-family='"Liberation Sans", "Noto Sans CJK SC", sans-serif' textLength="147.80" lengthAdjust="spacingAndGlyphs">RSI1:46.2697</text>
<text x="505.00" y="1074.00" font-size="25.41" fill="#2EBF78" font-weight="normal" font-family='"Liberation Sans", "Noto Sans CJK SC", sans-serif' textLength="146.78" lengthAdjust="spacingAndGlyphs">RSI2:46.2697</text>
<text x="669.00" y="1074.00" font-size="25.41" fill="#36B2EE" font-weight="normal" font-family='"Liberation Sans", "Noto Sans CJK SC", sans-serif' textLength="146.78" lengthAdjust="spacingAndGlyphs">RSI3:46.2697</text>
<text x="588.94" y="1322.00" font-size="25.03" fill="#1e2236" font-weight="bold" font-family='"Liberation Sans", "Noto Sans CJK SC", sans-serif' textLength="63.49" lengthAdjust="spacingAndGlyphs">02/03</text>
<text x="67.52" y="1325.00" font-size="24.88" fill="#FF7F00" font-weight="normal" font-family='"Liberation Sans", "Noto Sans CJK SC", sans-serif' textLength="25.68" lengthAdjust="spacingAndGlyphs">60</text>
<text x="93.82" y="1326.00" font-size="24.00" fill="#FF7F00" font-weight="bold" font-family='"Noto Sans CJK SC", "Liberation Sans", sans-serif' textLength="26.27" lengthAdjust="spacingAndGlyphs">分</text>
<text x="55.00" y="1360.70" font-size="24.00" fill="#1e2838" font-weight="normal" font-family='"Noto Sans CJK SC", "Liberation Sans", sans-serif' textLength="48.00" lengthAdjust="spacingAndGlyphs">指标</text>
<text x="134.99" y="1360.70" font-size="24.00" fill="#1e2838" font-weight="normal" font-family='"Noto Sans CJK SC", "Liberation Sans", sans-serif' textLength="47.81" lengthAdjust="spacingAndGlyphs">模板</text>
<text x="216.00" y="1359.00" font-size="24.00" fill="#fff" font-weight="normal" font-family='"Liberation Mono", "WenQuanYi Zen Hei", monospace' textLength="35.16" lengthAdjust="spacingAndGlyphs">VIP</text>
<text x="251.01" y="1363.00" font-size="24.00" fill="#fff" font-weight="normal" font-family='"Noto Sans CJK SC", "Liberation Sans", sans-serif' textLength="47.40" lengthAdjust="spacingAndGlyphs">指标</text>
<text x="330.33" y="1359.30" font-size="24.00" fill="#1e2838" font-weight="normal" font-family='"Liberation Mono", "WenQuanYi Zen Hei", monospace' textLength="120.39" lengthAdjust="spacingAndGlyphs">BARUPDN_UD</text>
<text x="482.22" y="1359.30" font-size="24.00" fill="#1e2838" font-weight="normal" font-family='"Liberation Mono", "WenQuanYi Zen Hei", monospace' textLength="85.51" lengthAdjust="spacingAndGlyphs">BIAS_UD</text>
<text x="598.32" y="1359.30" font-size="24.00" fill="#1e2838" font-weight="normal" font-family='"Liberation Mono", "WenQuanYi Zen Hei", monospace' textLength="84.70" lengthAdjust="spacingAndGlyphs">BOLL_UD</text>
<text x="715.18" y="1359.30" font-size="24.00" fill="#1e2838" font-weight="normal" font-family='"Liberation Mono", "WenQuanYi Zen Hei", monospace' textLength="70.88" lengthAdjust="spacingAndGlyphs">CCI_UD</text>
<text x="818.32" y="1359.30" font-size="24.00" fill="#1e2838" font-weight="normal" font-family='"Liberation Mono", "WenQuanYi Zen Hei", monospace' textLength="72.51" lengthAdjust="spacingAndGlyphs">DMI_UD</text>
<text x="922.31" y="1359.30" font-size="24.00" fill="#1e2838" font-weight="normal" font-family='"Liberation Mono", "WenQuanYi Zen Hei", monospace' textLength="109.35" lengthAdjust="spacingAndGlyphs">INSIDE_UD</text>
<text x="1064.19" y="1359.00" font-size="24.00" fill="#1e2838" font-weight="normal" font-family='"Liberation Mono", "WenQuanYi Zen Hei", monospace' textLength="23.48" lengthAdjust="spacingAndGlyphs">&gt;&gt;</text>
<text x="1332.72" y="1344.00" font-size="31.57" fill="#b9a48f" font-weight="normal" font-family='"Liberation Sans", "Noto Sans CJK SC", sans-serif' textLength="100.87" lengthAdjust="spacingAndGlyphs">FX678</text>
<text x="1331.72" y="1343.00" font-size="31.57" fill="#dce8f6" font-weight="normal" font-family='"Liberation Sans", "Noto Sans CJK SC", sans-serif' textLength="100.87" lengthAdjust="spacingAndGlyphs">FX678</text>
<text x="6.99" y="32.70" font-size="24.00" fill="#1e2838" font-weight="normal" font-family='"WenQuanYi Zen Hei", "Noto Sans CJK SC", sans-serif' textLength="24.26" lengthAdjust="spacingAndGlyphs">分</text>
<text x="7.04" y="63.00" font-size="25.29" fill="#1e2838" font-weight="normal" font-family='"WenQuanYi Zen Hei", "Noto Sans CJK SC", sans-serif' textLength="23.16" lengthAdjust="spacingAndGlyphs">时</text>
<text x="5.78" y="91.00" font-size="27.08" fill="#1e2838" font-weight="normal" font-family='"WenQuanYi Zen Hei", "Noto Sans CJK SC", sans-serif' textLength="26.69" lengthAdjust="spacingAndGlyphs">图</text>
<text x="12.25" y="131.00" font-size="21.18" fill="#fff" font-weight="normal" font-family='"WenQuanYi Zen Hei", "Noto Sans CJK SC", sans-serif' textLength="13.00" lengthAdjust="spacingAndGlyphs">K</text>
<text x="8.00" y="161.00" font-size="25.04" fill="#fff" font-weight="normal" font-family='"WenQuanYi Zen Hei", "Noto Sans CJK SC", sans-serif' textLength="23.21" lengthAdjust="spacingAndGlyphs">线</text>
<text x="5.78" y="189.00" font-size="25.09" fill="#fff" font-weight="normal" font-family='"WenQuanYi Zen Hei", "Noto Sans CJK SC", sans-serif' textLength="26.69" lengthAdjust="spacingAndGlyphs">图</text>
<text x="7.98" y="230.00" font-size="25.09" fill="#1e2838" font-weight="normal" font-family='"WenQuanYi Zen Hei", "Noto Sans CJK SC", sans-serif' textLength="23.81" lengthAdjust="spacingAndGlyphs">闪</text>
<text x="5.99" y="259.00" font-size="25.04" fill="#1e2838" font-weight="normal" font-family='"WenQuanYi Zen Hei", "Noto Sans CJK SC", sans-serif' textLength="24.13" lengthAdjust="spacingAndGlyphs">电</text>
<text x="5.78" y="287.00" font-size="25.09" fill="#1e2838" font-weight="normal" font-family='"WenQuanYi Zen Hei", "Noto Sans CJK SC", sans-serif' textLength="26.55" lengthAdjust="spacingAndGlyphs">图</text>
<text x="6.97" y="334.00" font-size="25.55" fill="#1e2838" font-weight="normal" font-family='"WenQuanYi Zen Hei", "Noto Sans CJK SC", sans-serif' textLength="24.18" lengthAdjust="spacingAndGlyphs">合</text>
<text x="8.00" y="362.00" font-size="25.35" fill="#1e2838" font-weight="normal" font-family='"WenQuanYi Zen Hei", "Noto Sans CJK SC", sans-serif' textLength="22.31" lengthAdjust="spacingAndGlyphs">约</text>
<text x="5.87" y="391.00" font-size="24.25" fill="#1e2838" font-weight="normal" font-family='"WenQuanYi Zen Hei", "Noto Sans CJK SC", sans-serif' textLength="25.39" lengthAdjust="spacingAndGlyphs">资</text>
<text x="7.99" y="418.00" font-size="25.63" fill="#1e2838" font-weight="normal" font-family='"WenQuanYi Zen Hei", "Noto Sans CJK SC", sans-serif' textLength="21.83" lengthAdjust="spacingAndGlyphs">料</text>
</svg>
</body></html>
